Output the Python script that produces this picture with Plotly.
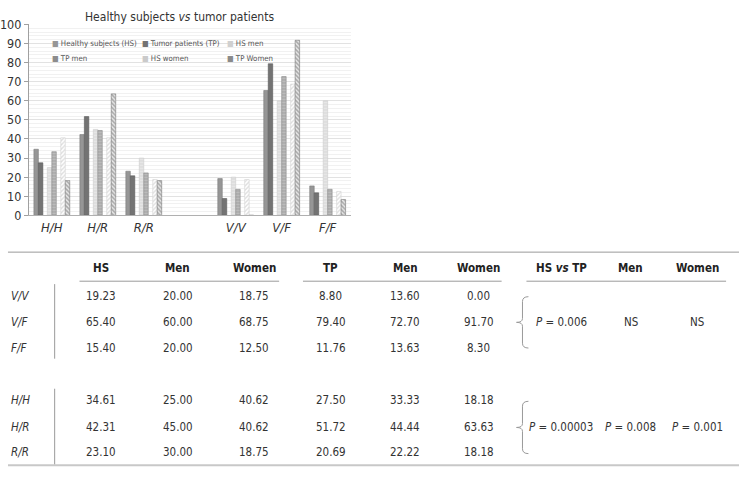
import plotly.graph_objects as go

# ---- chart data ----
categories = ["H/H", "H/R", "R/R", "V/V", "V/F", "F/F"]
axis_order = ["H/H", "H/R", "R/R", " ", "V/V", "V/F", "F/F"]

hs = [34.61, 42.31, 23.10, 19.23, 65.40, 15.40]
tp = [27.50, 51.72, 20.69, 8.80, 79.40, 11.76]
hs_men = [25.00, 45.00, 30.00, 20.00, 60.00, 60.00]
tp_men = [33.33, 44.44, 22.22, 13.60, 72.70, 13.63]
hs_women = [40.62, 40.62, 18.75, 18.75, 68.75, 12.50]
tp_women = [18.18, 63.63, 18.18, 0.00, 91.70, 8.30]

# ---- table data ----
row_labels_top = ["V/V", "V/F", "F/F"]
row_labels_bottom = ["H/H", "H/R", "R/R"]
header = ["HS", "Men", "Women", "TP", "Men", "Women", "HS <i>vs</i> TP", "Men", "Women"]
table_top = [
    ["19.23", "20.00", "18.75", "8.80", "13.60", "0.00"],
    ["65.40", "60.00", "68.75", "79.40", "72.70", "91.70"],
    ["15.40", "20.00", "12.50", "11.76", "13.63", "8.30"],
]
table_bottom = [
    ["34.61", "25.00", "40.62", "27.50", "33.33", "18.18"],
    ["42.31", "45.00", "40.62", "51.72", "44.44", "63.63"],
    ["23.10", "30.00", "18.75", "20.69", "22.22", "18.18"],
]
pvals_top = ["<i>P</i> = 0.006", "NS", "NS"]
pvals_bottom = ["<i>P</i> = 0.00003", "<i>P</i> = 0.008", "<i>P</i> = 0.001"]

W, H = 739, 480
FONT = "DejaVu Sans Condensed, DejaVu Sans"
TXT = "#333333"


def px(x):
    return x / W


def py(y):
    return 1 - y / H


def label(x, y, text, size=11.5, color=TXT, anchor="center"):
    fig.add_annotation(x=px(x), y=py(y), xref="paper", yref="paper", xanchor=anchor, yanchor="middle",
                       showarrow=False, text=text, font=dict(family=FONT, size=size, color=color))


fig = go.Figure()

series = [
    ("Healthy subjects (HS)", hs, dict(color="#969696", line=dict(color="#7c7c7c", width=0.6))),
    ("Tumor patients (TP)", tp, dict(color="#737373", line=dict(color="#5a5a5a", width=0.6))),
    None,
    ("HS men", hs_men, dict(color="#ffffff", line=dict(color="#cccccc", width=0.6),
                           pattern=dict(shape="-", fgcolor="#c2c2c2", bgcolor="#ececec", size=3, solidity=0.5))),
    ("TP men", tp_men, dict(color="#ffffff", line=dict(color="#8a8a8a", width=0.6),
                           pattern=dict(shape="-", fgcolor="#7d7d7d", bgcolor="#c4c4c4", size=3, solidity=0.5))),
    None,
    ("HS women", hs_women, dict(color="#ffffff", line=dict(color="#d4d4d4", width=0.6),
                               pattern=dict(shape="/", fgcolor="#bdbdbd", bgcolor="#ffffff", size=3, solidity=0.45))),
    ("TP Women", tp_women, dict(color="#ffffff", line=dict(color="#7a7a7a", width=0.6),
                               pattern=dict(shape="\\", fgcolor="#6a6a6a", bgcolor="#e6e6e6", size=3, solidity=0.5))),
]

for s in series:
    if s is None:
        # empty slot so the bars sit in pairs
        fig.add_trace(go.Bar(x=categories, y=[0] * len(categories), showlegend=False,
                             hoverinfo="skip", marker=dict(color="rgba(0,0,0,0)", line=dict(width=0))))
        continue
    name, vals, marker = s
    fig.add_trace(go.Bar(x=categories, y=vals, name=name, marker=marker, showlegend=False))

# hand-made legend (small swatches like the original)
legend_items = [
    ("Healthy subjects (HS)", "#969696"), ("Tumor patients (TP)", "#737373"), ("HS men", "#d0d0d0"),
    ("TP men", "#8c8c8c"), ("HS women", "#cacaca"), ("TP Women", "#8a8a8a"),
]
leg_x = [45, 136, 221]
leg_y = [37, 52]
for i, (lab, col) in enumerate(legend_items):
    label(leg_x[i % 3], leg_y[i // 3], f"<span style='color:{col}'>■</span> {lab}", size=7.8, color="#555555",
          anchor="left")

label(176, 9, "Healthy subjects <i>vs</i> tumor patients", size=12)

# ---- table ----
col_x = [97, 174, 251, 328, 403, 477, 560, 630, 697]
header_y = 268
rows_top_y = [297, 324, 351]
rows_bottom_y = [405, 432, 458]

for cx, h in zip(col_x, header):
    label(cx, header_y, f"<b>{h}</b>", color="#222222")

for labels, rows, ys in ((row_labels_top, table_top, rows_top_y), (row_labels_bottom, table_bottom, rows_bottom_y)):
    for lab, row, y in zip(labels, rows, ys):
        label(4, y, f"<i>{lab}</i>", anchor="left")
        for cx, v in zip(col_x[:6], row):
            label(cx, y, v)

for pv, y in ((pvals_top, rows_top_y[1]), (pvals_bottom, rows_bottom_y[1])):
    for cx, v in zip(col_x[6:], pv):
        label(cx, y, v)

line_grey = "#9a9a9a"


def hline(x0, x1, y, color=line_grey, width=1):
    fig.add_shape(type="line", xref="paper", yref="paper", x0=px(x0), x1=px(x1), y0=py(y), y1=py(y),
                  line=dict(color=color, width=width))


def vline(x, y0, y1):
    fig.add_shape(type="line", xref="paper", yref="paper", x0=px(x), x1=px(x), y0=py(y0), y1=py(y1),
                  line=dict(color=line_grey, width=1))


hline(3, 739, 252)
hline(3, 739, 472, color="#c8c8c8", width=2)
for a, b in ((75, 276), (300, 500), (525, 726)):
    hline(a, b, 282)
vline(50, 285, 362)
vline(50, 393, 471)


def brace(top, bottom):
    mid = (top + bottom) / 2
    pts = [("M", 527, top), ("Q", 521, top), (None, 521, top + 5), ("L", 521, mid - 4),
           ("Q", 521, mid), (None, 515, mid), ("Q", 521, mid), (None, 521, mid + 4),
           ("L", 521, bottom - 5), ("Q", 521, bottom), (None, 527, bottom)]
    path = " ".join(f"{c + ' ' if c else ''}{px(x):.5f},{py(y):.5f}" for c, x, y in pts)
    fig.add_shape(type="path", xref="paper", yref="paper", path=path, line=dict(color=line_grey, width=1))


brace(298, 351)
brace(406, 460)

fig.update_layout(
    width=W, height=H,
    margin=dict(l=0, r=0, t=0, b=0),
    paper_bgcolor="white", plot_bgcolor="white",
    barmode="group", bargap=0.22, bargroupgap=0,
    showlegend=False,
    xaxis=dict(domain=[px(24), px(348)], type="category", categoryorder="array", categoryarray=axis_order,
               range=[-0.5, 6.5], showline=True, linecolor="#b0b0b0", ticks="",
               tickfont=dict(family=FONT, size=13, color=TXT, style="italic")),
    yaxis=dict(domain=[py(214), py(17)], range=[0, 100], dtick=10, showline=True, linecolor="#a0a0a0",
               ticks="outside", ticklen=4, tickcolor="#a0a0a0", gridcolor="#e2e2e2",
               tickfont=dict(family=FONT, size=12.5, color=TXT),
               minor=dict(dtick=2, showgrid=True, gridcolor="#f1f1f1")),
)

# page body has a default 8px margin; drop it so the 739x480 figure fills the window exactly
fig.write_html("out.html", config={"displayModeBar": False},
               post_script="document.body.style.margin='0';")
